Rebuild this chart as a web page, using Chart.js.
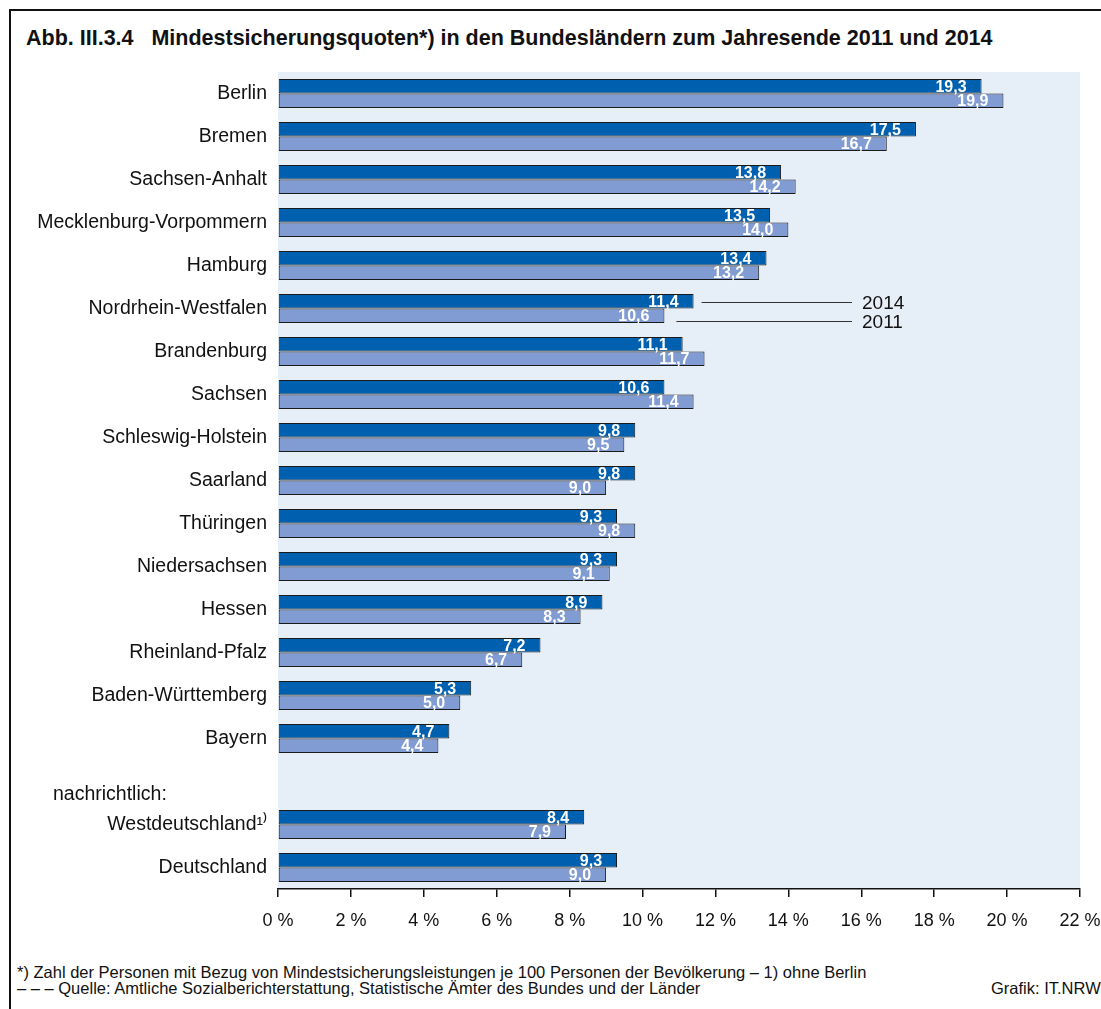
<!DOCTYPE html>
<html>
<head>
<meta charset="utf-8">
<script src="https://cdn.jsdelivr.net/npm/chart.js@4.4.1/dist/chart.umd.min.js"></script>
<style>
  html, body { margin:0; padding:0; background:#fff; overflow:hidden; width:1101px; height:1009px; }
  body { position:relative; font-family:"Liberation Sans", Arial, sans-serif; color:#111; }
  #frame { position:absolute; left:9px; top:9px; width:1200px; height:1100px; border-left:2px solid #111; border-top:2px solid #111; }
  #title { position:absolute; left:26px; top:26px; font-weight:bold; font-size:21.5px; white-space:pre; color:#111; }
  #wrap { position:absolute; left:0; top:0; width:1101px; height:950px; }
  .fn { position:absolute; font-size:16.5px; white-space:pre; color:#111; }
</style>
</head>
<body>
<div id="frame"></div>
<div id="title">Abb. III.3.4   Mindestsicherungsquoten*) in den Bundesländern zum Jahresende 2011 und 2014</div>
<div id="wrap"><canvas id="c" width="1101" height="950"></canvas></div>
<div class="fn" style="left:17px; top:963px;">*) Zahl der Personen mit Bezug von Mindestsicherungsleistungen je 100 Personen der Bevölkerung – 1) ohne Berlin</div>
<div class="fn" style="left:17px; top:979px;">– – – Quelle: Amtliche Sozialberichterstattung, Statistische Ämter des Bundes und der Länder</div>
<div class="fn" style="left:991px; top:979px;">Grafik: IT.NRW</div>
<script>
const categories = [
  "Berlin", "Bremen", "Sachsen-Anhalt", "Mecklenburg-Vorpommern", "Hamburg",
  "Nordrhein-Westfalen", "Brandenburg", "Sachsen", "Schleswig-Holstein", "Saarland",
  "Thüringen", "Niedersachsen", "Hessen", "Rheinland-Pfalz", "Baden-Württemberg",
  "Bayern", "", "Westdeutschland¹⁾", "Deutschland"
];
const values2014 = [19.3, 17.5, 13.8, 13.5, 13.4, 11.4, 11.1, 10.6, 9.8, 9.8, 9.3, 9.3, 8.9, 7.2, 5.3, 4.7, null, 8.4, 9.3];
const values2011 = [19.9, 16.7, 14.2, 14.0, 13.2, 10.6, 11.7, 11.4, 9.5, 9.0, 9.8, 9.1, 8.3, 6.7, 5.0, 4.4, null, 7.9, 9.0];
const xTicks = [0, 2, 4, 6, 8, 10, 12, 14, 16, 18, 20, 22];
const sectionLabel = "nachrichtlich:";
const sectionIndex = 16;
const calloutIndex = 5;
const seriesNames = ["2014", "2011"];

const FONT = '"Liberation Sans", Arial, sans-serif';

const bgPlugin = {
  id: 'bg',
  beforeDraw(chart) {
    const {ctx, chartArea: a} = chart;
    ctx.save();
    ctx.fillStyle = '#e6eef8';
    ctx.fillRect(a.left, a.top, a.right - a.left, a.bottom - a.top);
    ctx.restore();
  }
};

const labelPlugin = {
  id: 'labels',
  afterDatasetsDraw(chart) {
    const ctx = chart.ctx;
    ctx.save();
    ctx.font = 'bold 16px ' + FONT;
    ctx.fillStyle = '#ffffff';
    ctx.textAlign = 'right';
    ctx.textBaseline = 'middle';
    chart.data.datasets.forEach((ds, di) => {
      const meta = chart.getDatasetMeta(di);
      meta.data.forEach((bar, i) => {
        const v = ds.data[i];
        if (v == null) return;
        ctx.fillText(v.toFixed(1).replace('.', ','), bar.x - 15, bar.y + 1);
      });
    });
    // section label
    const y = chart.scales.y;
    ctx.font = '19.5px ' + FONT;
    ctx.fillStyle = '#111';
    ctx.textAlign = 'left';
    ctx.fillText(sectionLabel, 53, y.getPixelForValue(sectionIndex) + 13);
    // callouts
    ctx.strokeStyle = '#333';
    ctx.lineWidth = 1;
    ctx.font = '19px ' + FONT;
    const offs = [8, 12];
    const dy = [1, 5];
    [0, 1].forEach(di => {
      const bar = chart.getDatasetMeta(di).data[calloutIndex];
      const yy = Math.round(bar.y + dy[di]) + 0.5;
      ctx.beginPath();
      ctx.moveTo(bar.x + offs[di], yy);
      ctx.lineTo(852, yy);
      ctx.stroke();
      ctx.fillStyle = '#111';
      ctx.fillText(seriesNames[di], 862, yy + 1);
    });
    ctx.restore();
  }
};

new Chart(document.getElementById('c'), {
  type: 'bar',
  data: {
    labels: categories,
    datasets: [
      { label: seriesNames[0], data: values2014, backgroundColor: '#0060b0', borderColor: '#1a1a1a', borderWidth: 1, borderSkipped: false,
        categoryPercentage: 0.675, barPercentage: 1.0 },
      { label: seriesNames[1], data: values2011, backgroundColor: '#819bd3', borderColor: '#1a1a1a', borderWidth: 1, borderSkipped: false,
        categoryPercentage: 0.675, barPercentage: 1.0 }
    ]
  },
  options: {
    indexAxis: 'y',
    responsive: false,
    animation: false,
    devicePixelRatio: 1,
    layout: { padding: { left: 0, top: 72, right: 21, bottom: 0 } },
    plugins: { legend: { display: false }, tooltip: { enabled: false } },
    scales: {
      y: {
        type: 'category',
        grid: { display: false },
        border: { display: false },
        ticks: { color: '#111', font: { family: FONT, size: 19.5 }, padding: 3, autoSkip: false },
        afterFit(s) { s.width = 278; s.paddingTop = 0; s.paddingBottom = 0; }
      },
      x: {
        type: 'linear',
        min: 0, max: 22,
        afterBuildTicks(s) { s.ticks = xTicks.map(v => ({ value: v })); },
        grid: { drawOnChartArea: false, drawTicks: true, tickLength: 8, color: '#111', lineWidth: 1.5 },
        border: { display: true, color: '#111', width: 1.5 },
        ticks: { color: '#111', font: { family: FONT, size: 18 }, padding: 13, maxRotation: 0, autoSkip: false,
          callback: v => v + ' %' },
        afterFit(s) { s.height = 61; s.paddingLeft = 0; s.paddingRight = 0; }
      }
    }
  },
  plugins: [bgPlugin, labelPlugin]
});
</script>
</body>
</html>
